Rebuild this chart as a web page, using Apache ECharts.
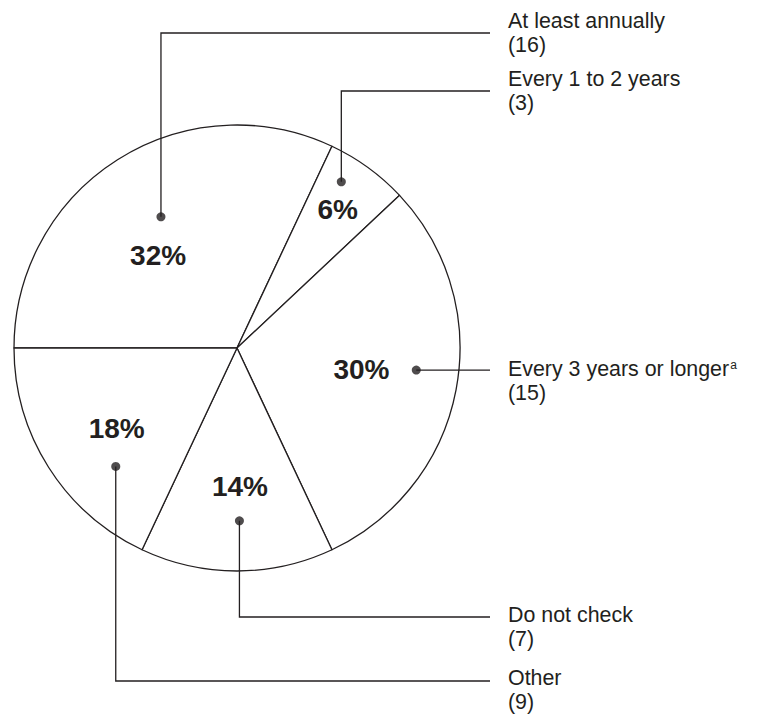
<!DOCTYPE html>
<html>
<head>
<meta charset="utf-8">
<title>How often do you check</title>
<script src="https://cdn.jsdelivr.net/npm/echarts@6/dist/echarts.min.js"></script>
<style>
  html, body { margin: 0; padding: 0; background: #fff; }
  #chart { width: 765px; height: 716px; }
</style>
</head>
<body>
<div id="chart"></div>
<script>
// data
const categories = ["At least annually", "Every 1 to 2 years", "Every 3 years or longer", "Do not check", "Other"];
const counts = [16, 3, 15, 7, 9];
const footnotes = ["", "", "a", "", ""];

// layout of the pie and of the callouts
const center = [237, 348];
const radius = 223;
const ink = "#231f20";
const font = "'Liberation Sans', Arial, Helvetica, sans-serif";
// where the bold percentage sits inside each slice (fraction of slice angle, fraction of radius)
const pctAngleFrac = [0.43, 0.505, 0.489, 0.476, 0.477];
const pctRadiusFrac = [0.545, 0.766, 0.566, 0.62, 0.65];
// where the callout dot sits inside each slice
const dotAngleFrac = [0.52, 0.32, 0.465, 0.484, 0.316];
const dotRadiusFrac = [0.68, 0.88, 0.81, 0.775, 0.76];
// row of each callout's horizontal leader (null = straight out from the dot)
const leaderY = [33, 91, null, 617, 681];
const lineGap = 24;
const textShift = [0, 0, 11, 10, 9];
const leaderEndX = 490;
const textX = 508;

const total = counts.reduce((a, b) => a + b, 0);
// slice edges in degrees, counter-clockwise from east; the pie starts at 180 and runs clockwise
const sliceStart = [];
const sliceEnd = [];
let acc = 180;
counts.forEach(v => {
  sliceStart.push(acc);
  acc -= v / total * 360;
  sliceEnd.push(acc);
});

function sliceAngle(i, frac) {
  return sliceStart[i] + (sliceEnd[i] - sliceStart[i]) * frac;
}

function toPixel(deg, rFrac) {
  const rad = deg * Math.PI / 180;
  return [center[0] + radius * rFrac * Math.cos(rad), center[1] - radius * rFrac * Math.sin(rad)];
}

const pieData = categories.map((name, i) => ({ name: name, value: counts[i] }));

// callout dots, placed on a polar grid that shares the pie's centre and radius
const dotData = categories.map((name, i) => {
  let deg = sliceAngle(i, dotAngleFrac[i]);
  if (deg < 0) deg += 360;
  return [dotRadiusFrac[i], deg];
});

const chart = echarts.init(document.getElementById("chart"), null, { renderer: "svg" });

const option = {
  backgroundColor: "#fff",
  animation: false,
  textStyle: { fontFamily: font, color: ink },
  polar: { center: center, radius: radius },
  angleAxis: { type: "value", min: 0, max: 360, startAngle: 0, clockwise: false, show: false },
  radiusAxis: { type: "value", min: 0, max: 1, show: false },
  series: [
    {
      // slices with their percentages
      type: "pie",
      center: center,
      radius: radius,
      startAngle: 180,
      clockwise: true,
      silent: true,
      data: pieData,
      itemStyle: { color: "#fff", borderColor: ink, borderWidth: 1.3 },
      label: {
        show: true,
        position: "inside",
        formatter: "{d}%",
        fontFamily: font,
        fontSize: 28,
        fontWeight: "bold",
        color: ink
      },
      labelLine: { show: false },
      labelLayout: p => {
        const pt = toPixel(sliceAngle(p.dataIndex, pctAngleFrac[p.dataIndex]), pctRadiusFrac[p.dataIndex]);
        return { x: pt[0], y: pt[1], align: "center", verticalAlign: "middle" };
      }
    },
    {
      // invisible twin that carries the callout texts and leaders
      type: "pie",
      center: center,
      radius: radius,
      startAngle: 180,
      clockwise: true,
      silent: true,
      z: 3,
      data: pieData,
      itemStyle: { color: "transparent", borderWidth: 0 },
      label: {
        show: true,
        position: "outside",
        width: 257,
        overflow: "none",
        formatter: p => {
          const sup = footnotes[p.dataIndex] ? "{s|" + footnotes[p.dataIndex] + "}" : "";
          return "{t|" + p.name + "}" + sup + "\n{t|(" + p.value + ")}";
        },
        rich: {
          t: { fontFamily: font, fontSize: 21.4, lineHeight: lineGap, color: ink },
          s: { fontFamily: font, fontSize: 12, lineHeight: 14, verticalAlign: "top", color: ink, padding: [2, 0, 0, 1] }
        }
      },
      labelLine: { show: true, smooth: false, lineStyle: { color: ink, width: 1.3 } },
      labelLayout: p => {
        const i = p.dataIndex;
        const dot = toPixel(sliceAngle(i, dotAngleFrac[i]), dotRadiusFrac[i]);
        const rowY = leaderY[i] == null ? dot[1] : leaderY[i];
        const corner = leaderY[i] == null ? [(dot[0] + leaderEndX) / 2, rowY] : [dot[0], rowY];
        return {
          x: textX,
          y: rowY + textShift[i],
          align: "left",
          verticalAlign: "middle",
          width: 257,
          labelLinePoints: [dot, corner, [leaderEndX, rowY]]
        };
      }
    },
    {
      type: "scatter",
      coordinateSystem: "polar",
      silent: true,
      z: 4,
      symbol: "circle",
      symbolSize: 9,
      itemStyle: { color: ink },
      data: dotData
    }
  ]
};

chart.setOption(option);
</script>
</body>
</html>
